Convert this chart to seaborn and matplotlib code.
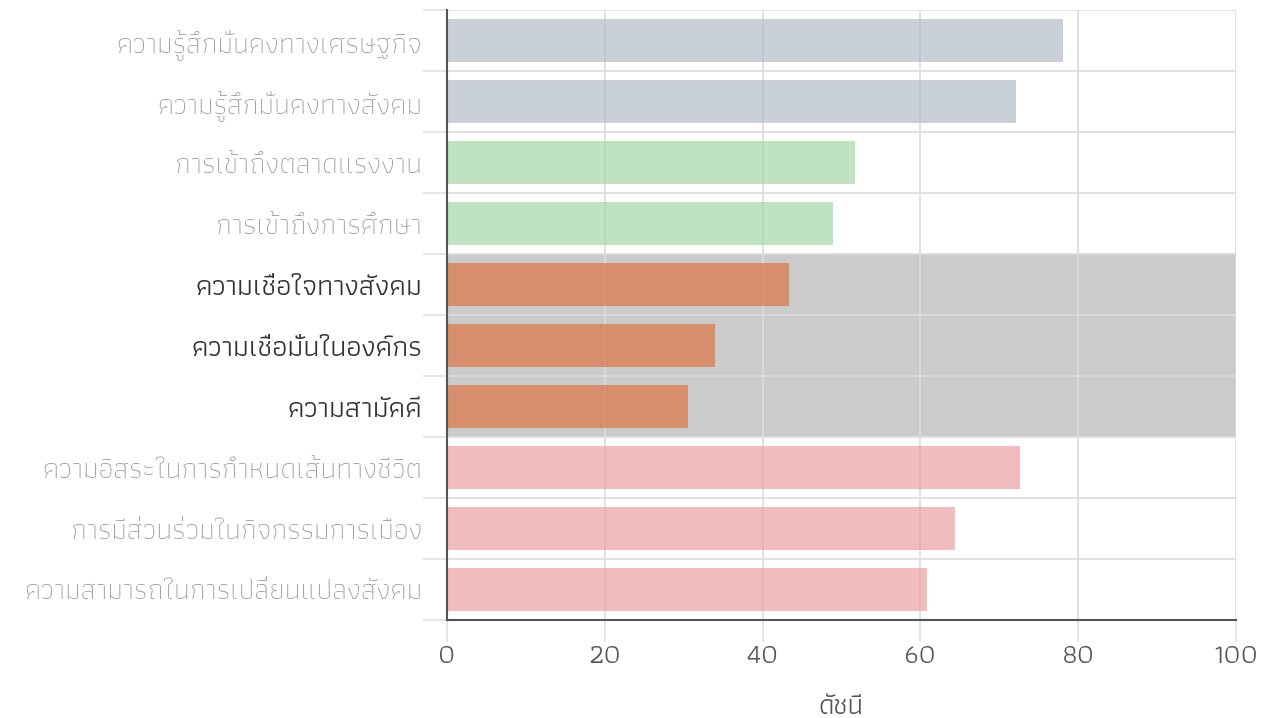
import matplotlib
matplotlib.use('Agg')
import numpy as np
import pandas as pd
import seaborn as sns
import matplotlib.pyplot as plt
from matplotlib.ticker import MultipleLocator

# ----- data -----
labels = [
    'ความรู้สึกมั่นคงทางเศรษฐกิจ',
    'ความรู้สึกมั่นคงทางสังคม',
    'การเข้าถึงตลาดแรงงาน',
    'การเข้าถึงการศึกษา',
    'ความเชื่อใจทางสังคม',
    'ความเชื่อมั่นในองค์กร',
    'ความสามัคคี',
    'ความอิสระในการกำหนดเส้นทางชีวิต',
    'การมีส่วนร่วมในกิจกรรมการเมือง',
    'ความสามารถในการเปลี่ยนแปลงสังคม',
]
values = [78.1, 72.2, 51.7, 48.9, 43.3, 34.0, 30.5, 72.7, 64.4, 60.8]
groups = ['security', 'security', 'access', 'access',
          'cohesion', 'cohesion', 'cohesion',
          'agency', 'agency', 'agency']
highlight = 'cohesion'
x_ticks = [0, 20, 40, 60, 80, 100]
x_label = 'ดัชนี'

# bar colours (drawn with alpha over white / grey band)
palette = {'security': '#b2bdc9', 'access': '#a4d7a6',
           'cohesion': '#db7546', 'agency': '#eca0a1'}

df = pd.DataFrame({'label': labels, 'value': values, 'group': groups})

FONT = ['Athiti', 'DejaVu Sans']
sns.set_style('white')
plt.rcParams['font.family'] = FONT

fig = plt.figure(figsize=(12.7, 7.18), dpi=100)
ax = fig.add_axes([0.352, 0.1365, 0.621, 0.8495])

# highlighted band behind everything
hl_idx = [i for i, g in enumerate(groups) if g == highlight]
ax.axhspan(min(hl_idx) - 0.5, max(hl_idx) + 0.5, color='#cbcbcb', zorder=0.1, lw=0)

sns.barplot(data=df, x='value', y='label', hue='group', palette=palette,
            order=labels, width=0.7, alpha=0.7, legend=False, ax=ax,
            saturation=1, linewidth=0)

ax.set_xlim(0, 100)
ax.set_ylim(len(labels) - 0.5, -0.5)
ax.set_xticks(x_ticks)
ax.yaxis.set_minor_locator(MultipleLocator(1, offset=0.5))
ax.set_axisbelow(True)
ax.grid(False)
ax.xaxis.grid(True, which='major', color='#dcdcdc', lw=1.2)
ax.yaxis.grid(True, which='minor', color='#dcdcdc', lw=1.2)

ax.tick_params(axis='x', which='major', bottom=True, length=16, width=1.2,
               color='#e2e2e2', labelsize=20, labelcolor='#555555', pad=2)
ax.tick_params(axis='y', which='major', left=False, length=0, labelsize=21, pad=18)
ax.tick_params(axis='y', which='minor', left=True, length=17, width=1.2, color='#e2e2e2')

for sp in ['top', 'right']:
    ax.spines[sp].set_visible(False)
for sp in ['left', 'bottom']:
    ax.spines[sp].set_color('#555555')
    ax.spines[sp].set_linewidth(1.5)
    ax.spines[sp].set_zorder(3)

for tl, g in zip(ax.get_yticklabels(), groups):
    if g == highlight:
        tl.set_color('#333333')
        tl.set_fontweight('normal')
    else:
        tl.set_color('#9a9a9a')
        tl.set_fontweight('light')

ax.set_ylabel('')
ax.set_xlabel(x_label, fontsize=20, color='#555555', labelpad=20)

fig.savefig('out.png', dpi=100)
